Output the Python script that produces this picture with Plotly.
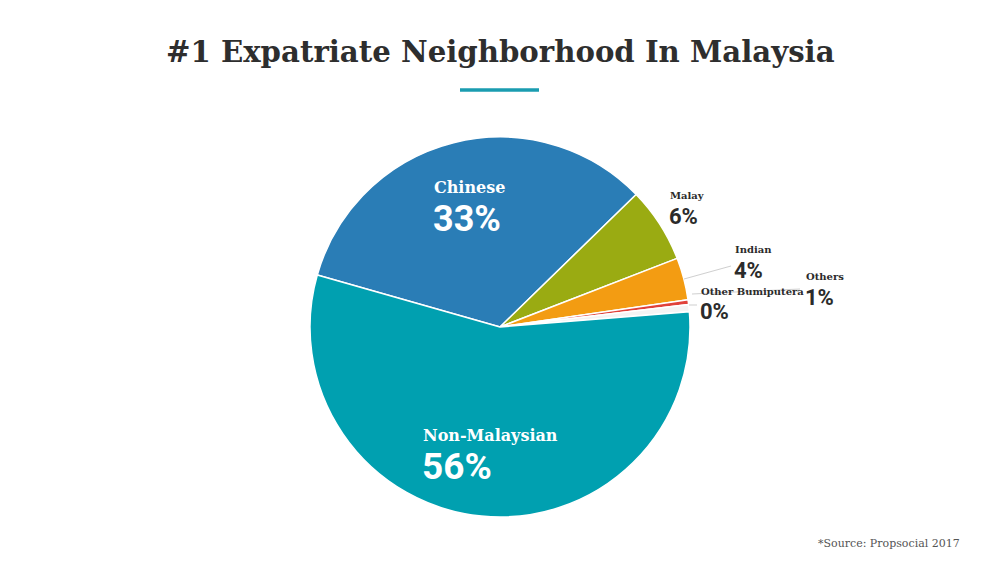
import plotly.graph_objects as go

labels = ["Chinese", "Malay", "Indian", "Other Bumiputera", "Others", "Non-Malaysian"]
values = [33.3, 6.4, 3.6, 0.4, 0.6, 55.7]
colors = ["#2a7db6", "#9aab12", "#f39c12", "#e0413a", "#f4f4f4", "#00a0b0"]

title_text = "#1 Expatriate Neighborhood In Malaysia"
source_text = "*Source: Propsocial 2017"

W, H = 1000, 563
fig = go.Figure()
fig.add_trace(go.Pie(
    labels=labels, values=values, sort=False, direction="clockwise",
    rotation=-74.1, marker=dict(colors=colors, line=dict(color="white", width=1.5)),
    textinfo="none", hoverinfo="label+percent", showlegend=False,
    domain=dict(x=[310 / W, 690 / W], y=[1 - 517 / H, 1 - 137 / H]),
))

total = sum(values)
pct = {l: f"{int(v / total * 100 + 0.5)}%" for l, v in zip(labels, values)}

slab = "DejaVu Serif"
sans = "Roboto"

def px(x, y):
    return x / W, 1 - y / H

anns = []
def label(name, x, y_name, y_pct, name_size, pct_size, color):
    xx, yy = px(x, y_name)
    anns.append(dict(x=xx, y=yy, xref="paper", yref="paper", xanchor="left", yanchor="middle",
                     text=f"<b>{name}</b>", showarrow=False,
                     font=dict(family=slab, size=name_size, color=color)))
    xx, yy = px(x - 1, y_pct)
    anns.append(dict(x=xx, y=yy, xref="paper", yref="paper", xanchor="left", yanchor="middle",
                     text=f"<b>{pct[name]}</b>", showarrow=False,
                     font=dict(family=sans, size=pct_size, color=color)))

label("Chinese", 432, 187, 219, 16, 36, "white")
label("Non-Malaysian", 421, 435, 466, 16, 37, "white")
dark = "#2b2b2b"
label("Malay", 668, 196, 216, 10, 22, dark)
label("Indian", 733, 249, 270, 10, 22, dark)
label("Other Bumiputera", 699, 291, 311, 10, 22, dark)
label("Others", 804, 276, 297, 10, 22, dark)

# title
xx, yy = px(500, 52)
anns.append(dict(x=xx, y=yy, xref="paper", yref="paper", xanchor="center", yanchor="middle",
                 text=f"<b>{title_text}</b>", showarrow=False,
                 font=dict(family=slab, size=29.2, color="#2e2e2e")))
xx, yy = px(962, 543)
anns.append(dict(x=xx, y=yy, xref="paper", yref="paper", xanchor="right", yanchor="middle",
                 text=source_text, showarrow=False,
                 font=dict(family=slab, size=11, color="#555555")))

shapes = []
def seg(x0, y0, x1, y1, color="#cfcfcf", width=1):
    a, b = px(x0, y0)
    c, d = px(x1, y1)
    shapes.append(dict(type="line", xref="paper", yref="paper", x0=a, y0=b, x1=c, y1=d,
                       line=dict(color=color, width=width)))

seg(460, 90, 539, 90, color="#1a9cb0", width=3.5)
seg(684, 279, 731, 266)
seg(689, 305, 697, 305)
seg(692, 294, 800, 289)

fig.update_layout(width=W, height=H, margin=dict(l=0, r=0, t=0, b=0),
                  paper_bgcolor="white", plot_bgcolor="white",
                  annotations=anns, shapes=shapes)
fig.write_html("out.html", config={"displayModeBar": False},
               post_script="document.body.style.margin='0';")
